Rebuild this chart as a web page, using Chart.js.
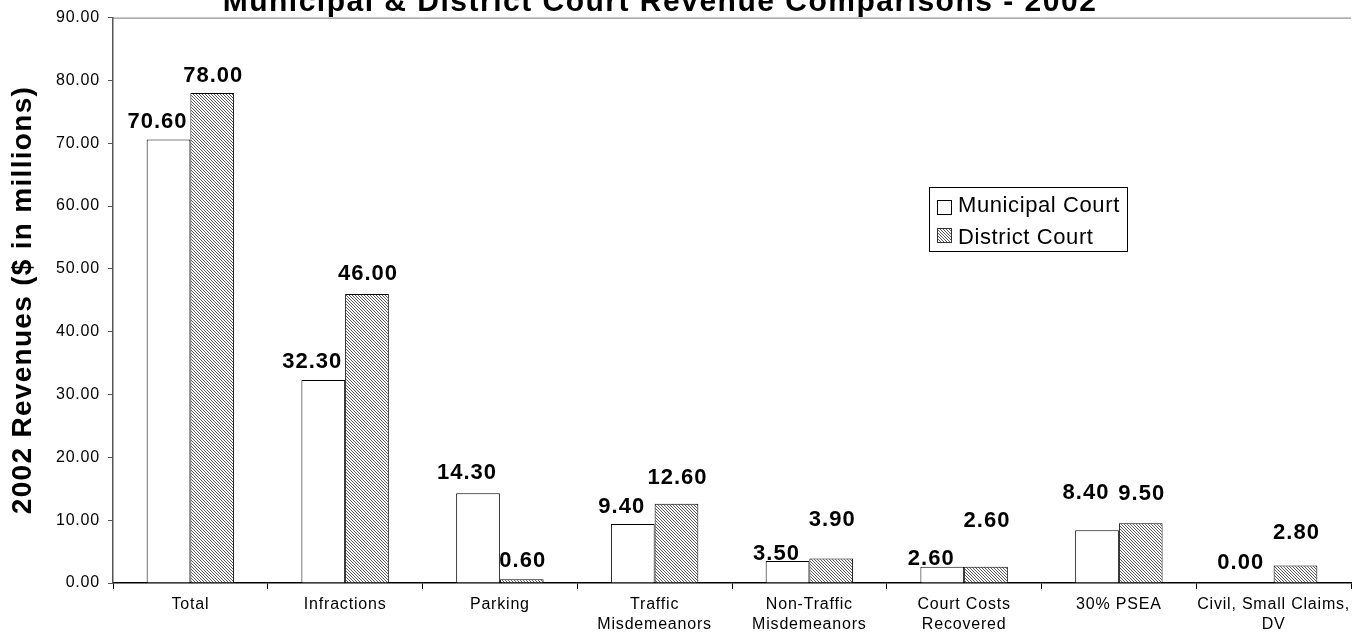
<!DOCTYPE html>
<html>
<head>
<meta charset="utf-8">
<script src="https://cdn.jsdelivr.net/npm/chart.js@4.4.0/dist/chart.umd.min.js"></script>
<style>
  html, body { margin: 0; padding: 0; background: #fff; }
  #wrap { width: 1359px; height: 637px; }
</style>
</head>
<body>
<div id="wrap"><canvas id="courtChart" width="1359" height="637"></canvas></div>
<script>
const categories = [
    "Total", "Infractions", "Parking", ["Traffic", "Misdemeanors"],
    ["Non-Traffic", "Misdemeanors"], ["Court Costs", "Recovered"], "30% PSEA",
    ["Civil, Small Claims,", "DV"]
];
const municipalCourt = [70.6, 32.3, 14.3, 9.4, 3.5, 2.6, 8.4, 0.0];
const districtCourt = [78.0, 46.0, 0.6, 12.6, 3.9, 2.6, 9.5, 2.8];
const yTicks = [0, 10, 20, 30, 40, 50, 60, 70, 80, 90];

const titleText = "Municipal & District Court Revenue Comparisons - 2002";
const yTitleText = "2002 Revenues ($ in millions)";

// fine diagonal hatch for district bars
function hatchPattern() {
    const c = document.createElement("canvas");
    c.width = 3; c.height = 3;
    const g = c.getContext("2d");
    g.fillStyle = "#fff";
    g.fillRect(0, 0, 3, 3);
    g.fillStyle = "#5a5a5a";
    for (let i = 0; i < 3; i++) g.fillRect(i, i, 1, 1);
    return g.createPattern(c, "repeat");
}

const ctx = document.getElementById("courtChart").getContext("2d");
const hatch = hatchPattern();

// how far each value label sits above its bar (Excel nudged some to avoid overlap)
const labelLift = [
    [11, 12, 14, 11, 1, 2, 31, 14],
    [11, 14, 12, 20, 32, 40, 23, 26]
];
const labelShift = [-11, 1];

const decorPlugin = {
    id: "decor",
    beforeDraw(chart) {
        chart.ctx.letterSpacing = "0.8px";
    },
    afterDraw(chart) {
        const c = chart.ctx;
        const area = chart.chartArea;
        c.save();

        // top edge of plot
        c.strokeStyle = "#777";
        c.lineWidth = 1;
        c.beginPath();
        c.moveTo(area.left, area.top + 0.5);
        c.lineTo(area.right, area.top + 0.5);
        c.stroke();

        // title (cut off at the top like the original)
        c.fillStyle = "#000";
        c.font = "bold 30px 'Liberation Sans', Arial, sans-serif";
        c.letterSpacing = "1.5px";
        c.textAlign = "center";
        c.textBaseline = "alphabetic";
        c.fillText(titleText, 660, 11);

        // y axis title
        c.save();
        c.translate(23, 300);
        c.rotate(-Math.PI / 2);
        c.font = "bold 28px 'Liberation Sans', Arial, sans-serif";
        c.letterSpacing = "1.3px";
        c.textBaseline = "middle";
        c.fillText(yTitleText, 0, 0);
        c.restore();

        // value labels
        c.font = "bold 22px 'Liberation Sans', Arial, sans-serif";
        c.letterSpacing = "1px";
        c.textAlign = "center";
        c.textBaseline = "alphabetic";
        chart.data.datasets.forEach((ds, di) => {
            const meta = chart.getDatasetMeta(di);
            meta.data.forEach((bar, i) => {
                c.fillText(ds.data[i].toFixed(2), bar.x + labelShift[di], bar.y - labelLift[di][i]);
            });
        });

        // legend box
        c.letterSpacing = "0.6px";
        c.fillStyle = "#fff";
        c.fillRect(929, 187, 198, 64);
        c.strokeStyle = "#000";
        c.lineWidth = 1;
        c.strokeRect(929.5, 187.5, 198, 64);
        c.fillStyle = "#fff";
        c.fillRect(937, 200, 15, 15);
        c.strokeRect(937.5, 200.5, 14, 14);
        c.fillStyle = hatch;
        c.fillRect(937, 228, 15, 15);
        c.strokeStyle = "#333";
        c.strokeRect(937.5, 228.5, 14, 14);
        c.fillStyle = "#000";
        c.font = "22px 'Liberation Sans', Arial, sans-serif";
        c.textAlign = "left";
        c.fillText(chart.data.datasets[0].label, 958, 212);
        c.fillText(chart.data.datasets[1].label, 958, 244);

        c.restore();
    }
};

new Chart(ctx, {
    type: "bar",
    data: {
        labels: categories,
        datasets: [{
            label: "Municipal Court",
            data: municipalCourt,
            backgroundColor: "#fff",
            borderColor: "#000",
            borderWidth: 1
        }, {
            label: "District Court",
            data: districtCourt,
            backgroundColor: hatch,
            borderColor: "#000",
            borderWidth: 1
        }]
    },
    options: {
        responsive: false,
        animation: false,
        events: [],
        layout: { padding: { top: 13, right: 8, left: 0, bottom: 0 } },
        datasets: {
            bar: { categoryPercentage: 0.565, barPercentage: 1.0 }
        },
        plugins: {
            legend: { display: false },
            tooltip: { enabled: false },
            title: { display: false }
        },
        scales: {
            x: {
                grid: { offset: true, drawOnChartArea: false, drawTicks: true, tickLength: 6, color: "#000" },
                border: { color: "#000", width: 1.5 },
                ticks: {
                    color: "#000",
                    padding: 6,
                    maxRotation: 0,
                    autoSkip: false,
                    font: { family: "'Liberation Sans', Arial, sans-serif", size: 16, lineHeight: 1.25 }
                },
                afterFit: s => { s.height = 54; }
            },
            y: {
                min: 0,
                max: 90,
                afterBuildTicks: s => { s.ticks = yTicks.map(v => ({ value: v })); },
                grid: { drawOnChartArea: false, drawTicks: true, tickLength: 5, color: "#555" },
                border: { color: "#555", width: 1.5 },
                ticks: {
                    color: "#000",
                    padding: 8,
                    callback: v => Number(v).toFixed(2),
                    font: { family: "'Liberation Sans', Arial, sans-serif", size: 16 }
                },
                afterFit: s => { s.width = 113; }
            }
        }
    },
    plugins: [decorPlugin]
});
</script>
</body>
</html>
